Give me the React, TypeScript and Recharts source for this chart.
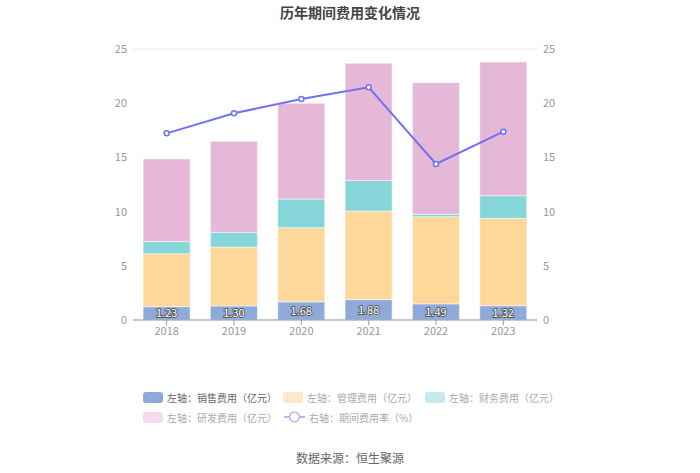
import React from "react";
import {
  Bar,
  CartesianGrid,
  ComposedChart,
  LabelList,
  Line,
  XAxis,
  YAxis,
} from "recharts";

const years = ["2018", "2019", "2020", "2021", "2022", "2023"];
const salesCost = [1.23, 1.3, 1.68, 1.88, 1.49, 1.32];
const adminCost = [4.89, 5.43, 6.84, 8.18, 8.04, 8.06];
const financeCost = [1.11, 1.36, 2.64, 2.82, 0.22, 2.09];
const rdCost = [7.62, 8.39, 8.83, 10.8, 12.14, 12.33];
const expenseRate = [17.22, 19.07, 20.39, 21.46, 14.39, 17.37];
const axisTicks = [0, 5, 10, 15, 20, 25];

const FONT = '"Noto Sans CJK SC", "Noto Sans", sans-serif';

const data = years.map((year, i) => ({
  year,
  sales: salesCost[i],
  admin: adminCost[i],
  finance: financeCost[i],
  rd: rdCost[i],
  rate: expenseRate[i],
}));

const legendItems = [
  { label: "左轴：销售费用（亿元）", color: "#8eaadb", text: "#666", kind: "bar", x: 143, y: 397 },
  { label: "左轴：管理费用（亿元）", color: "#fde8c7", text: "#aaa", kind: "bar", x: 283, y: 397 },
  { label: "左轴：财务费用（亿元）", color: "#c3ebed", text: "#aaa", kind: "bar", x: 425, y: 397 },
  { label: "左轴：研发费用（亿元）", color: "#f3dcec", text: "#aaa", kind: "bar", x: 143, y: 417 },
  { label: "右轴：期间费用率（%）", color: "#b4b5f9", text: "#aaa", kind: "line", x: 284, y: 417 },
];

function SalesLabel(props: any) {
  const { x, y, width, height, value } = props;
  return (
    <text
      x={x + width / 2}
      y={y + height / 2 + 1}
      textAnchor="middle"
      dominantBaseline="middle"
      fontSize={11}
      fontFamily={FONT}
      fill="#fff"
      stroke="#555"
      strokeWidth={1.8}
      paintOrder="stroke"
    >
      {Number(value).toFixed(2)}
    </text>
  );
}

export default function App() {
  return (
    <div style={{ position: "relative", width: 700, height: 473, fontFamily: FONT, background: "#fff" }}>
      <style>{"body{margin:0}"}</style>
      <div
        style={{
          position: "absolute",
          top: 2,
          width: 700,
          textAlign: "center",
          fontSize: 14,
          fontWeight: "bold",
          color: "#444",
        }}
      >
        历年期间费用变化情况
      </div>
      <ComposedChart
        width={700}
        height={473}
        data={data}
        margin={{ top: 49, right: 0, bottom: 123, left: 0 }}
        barCategoryGap="15%"
      >
        <CartesianGrid vertical={false} stroke="#e9ecf5" />
        <XAxis
          dataKey="year"
          height={30}
          tick={{ fill: "#999", fontSize: 11, fontFamily: FONT }}
          tickLine={{ stroke: "#999" }}
          tickSize={5}
          axisLine={{ stroke: "#999" }}
        />
        <YAxis
          yAxisId="left"
          width={133}
          domain={[0, 25]}
          ticks={axisTicks}
          axisLine={false}
          tickLine={false}
          tickMargin={0}
          tick={{ fill: "#999", fontSize: 11, fontFamily: FONT }}
        />
        <YAxis
          yAxisId="right"
          orientation="right"
          width={163}
          domain={[0, 25]}
          ticks={axisTicks}
          axisLine={false}
          tickLine={false}
          tickMargin={0}
          tick={{ fill: "#999", fontSize: 11, fontFamily: FONT }}
        />
        <Bar yAxisId="left" dataKey="sales" stackId="a" fill="#8eaadb" stroke="#fff" strokeWidth={0.5} isAnimationActive={false}>
          <LabelList dataKey="sales" content={SalesLabel} />
        </Bar>
        <Bar yAxisId="left" dataKey="admin" stackId="a" fill="#fed89b" stroke="#fff" strokeWidth={0.5} isAnimationActive={false} />
        <Bar yAxisId="left" dataKey="finance" stackId="a" fill="#86d5d8" stroke="#fff" strokeWidth={0.5} isAnimationActive={false} />
        <Bar yAxisId="left" dataKey="rd" stackId="a" fill="#e6b8d8" stroke="#fff" strokeWidth={0.5} isAnimationActive={false} />
        <Line
          yAxisId="right"
          dataKey="rate"
          stroke="#6f72f3"
          strokeWidth={2}
          dot={{ r: 2.5, fill: "#fff", stroke: "#6f72f3", strokeWidth: 1.5 }}
          isAnimationActive={false}
        />
      </ComposedChart>
      {legendItems.map((item) => (
        <div
          key={item.label}
          style={{
            position: "absolute",
            left: item.x,
            top: item.y - 8,
            height: 16,
            display: "flex",
            alignItems: "center",
            fontSize: 10,
            color: item.text,
            whiteSpace: "nowrap",
          }}
        >
          {item.kind === "bar" ? (
            <span style={{ display: "inline-block", width: 20, height: 11, borderRadius: 3, background: item.color }} />
          ) : (
            <svg width={21} height={12}>
              <line x1={0} y1={6} x2={21} y2={6} stroke={item.color} strokeWidth={2} />
              <circle cx={10.5} cy={6} r={5} fill="#fff" stroke={item.color} strokeWidth={1.5} />
            </svg>
          )}
          <span style={{ marginLeft: 4 }}>{item.label}</span>
        </div>
      ))}
      <div
        style={{
          position: "absolute",
          top: 449,
          width: 700,
          textAlign: "center",
          fontSize: 12,
          color: "#666",
        }}
      >
        数据来源：恒生聚源
      </div>
    </div>
  );
}
